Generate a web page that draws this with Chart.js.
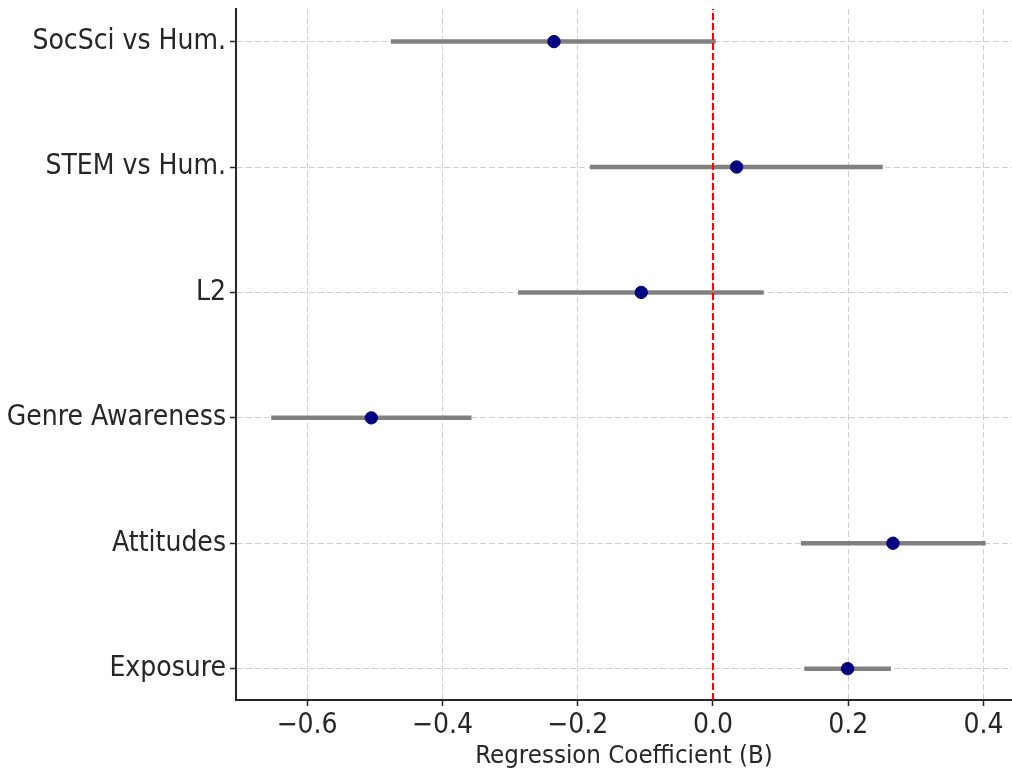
<!DOCTYPE html>
<html>
<head>
<meta charset="utf-8">
<script src="https://cdn.jsdelivr.net/npm/chart.js@4"></script>
<style>
  body { margin: 0; background: #fff; }
  #wrap { width: 1012px; height: 773px; }
</style>
</head>
<body>
<div id="wrap"><canvas id="forestChart"></canvas></div>
<script>
// categories listed top to bottom, as in the figure
const categories = ["SocSci vs Hum.", "STEM vs Hum.", "L2", "Genre Awareness", "Attitudes", "Exposure"];
const coefficients = [-0.235, 0.035, -0.106, -0.505, 0.266, 0.199];
const ciLower = [-0.476, -0.182, -0.288, -0.653, 0.130, 0.135];
const ciUpper = [0.004, 0.251, 0.075, -0.357, 0.403, 0.263];

const xMin = -0.705, xMax = 0.442;
const yMin = -0.25, yMax = 5.26;

const fontFamily = "'DejaVu Sans Condensed', 'DejaVu Sans', sans-serif";
const n = categories.length;
const yPos = (i) => n - 1 - i;

var datasets = [];

// points
datasets.push({
  type: "scatter",
  data: coefficients.map((c, i) => ({ x: c, y: yPos(i) })),
  backgroundColor: "#000080",
  borderColor: "#000080",
  pointRadius: 6.2,
  pointHoverRadius: 6.2,
  order: 0,
});

// zero reference line
datasets.push({
  type: "line",
  data: [{ x: 0, y: yMin }, { x: 0, y: yMax }],
  borderColor: "#ff0000",
  borderWidth: 2,
  borderDash: [7, 3],
  pointRadius: 0,
  fill: false,
  order: 1,
});

// confidence intervals
categories.forEach(function (cat, i) {
  datasets.push({
    type: "line",
    data: [{ x: ciLower[i], y: yPos(i) }, { x: ciUpper[i], y: yPos(i) }],
    borderColor: "#808080",
    borderWidth: 4.5,
    pointRadius: 0,
    fill: false,
    order: 2,
  });
});

function fmtTick(v) {
  return v.toFixed(1).replace("-", "\u2212");
}

const ctx = document.getElementById("forestChart").getContext("2d");
new Chart(ctx, {
  type: "scatter",
  data: { datasets: datasets },
  options: {
    responsive: true,
    maintainAspectRatio: false,
    animation: false,
    layout: { autoPadding: false, padding: { top: 9, right: 0, left: 0, bottom: 0 } },
    plugins: {
      legend: { display: false },
      tooltip: { enabled: false },
    },
    scales: {
      x: {
        type: "linear",
        min: xMin,
        max: xMax,
        ticks: {
          stepSize: 0.2,
          includeBounds: false,
          callback: (v) => fmtTick(v),
          color: "#262626",
          font: { family: fontFamily, size: 28 },
          padding: 3,
          maxRotation: 0,
        },
        grid: {
          color: "#d0d0d0",
          lineWidth: 1,
          tickColor: "#262626",
          tickLength: 6,
          tickWidth: 1.5,
        },
        border: { color: "#262626", width: 2, dash: [6, 3] },
        title: {
          display: true,
          text: "Regression Coefficient (B)",
          color: "#262626",
          font: { family: fontFamily, size: 25.6 },
          padding: { top: 0, bottom: 1 },
        },
        afterFit: (scale) => {
          scale.height = 73;
          scale.paddingLeft = 0;
          scale.paddingRight = 0;
        },
      },
      y: {
        type: "linear",
        min: yMin,
        max: yMax,
        ticks: {
          stepSize: 1,
          includeBounds: false,
          callback: (v) => categories[n - 1 - v],
          color: "#262626",
          font: { family: fontFamily, size: 28 },
          padding: 4,
        },
        grid: {
          color: "#d0d0d0",
          lineWidth: 1,
          tickColor: "#262626",
          tickLength: 6,
          tickWidth: 1.5,
        },
        border: { color: "#262626", width: 2, dash: [6, 3] },
        afterFit: (scale) => {
          scale.width = 236;
          scale.paddingTop = 0;
          scale.paddingBottom = 0;
        },
      },
    },
  },
});
</script>
</body>
</html>
